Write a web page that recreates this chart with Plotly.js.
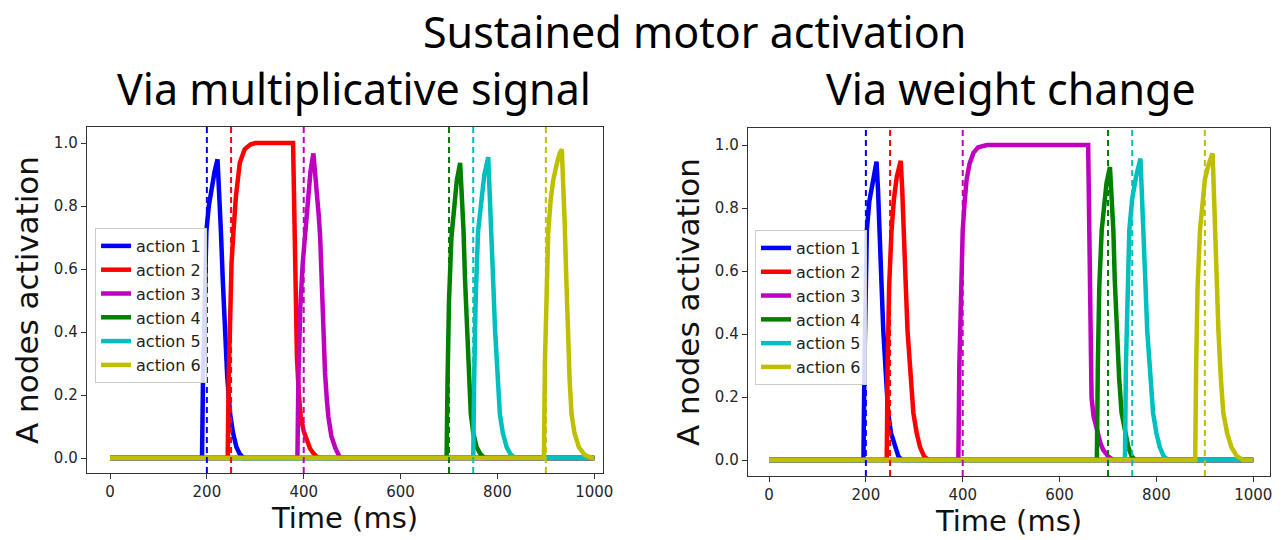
<!DOCTYPE html>
<html>
<head>
<meta charset="utf-8">
<script src="https://cdn.plot.ly/plotly-3.0.1.min.js"></script>
<style>html,body{margin:0;padding:0;background:#fff;}#chart{width:1288px;height:540px;}</style>
</head>
<body>
<div id="chart"></div>
<script>
// ---- data ----
const actionNames = ["action 1", "action 2", "action 3", "action 4", "action 5", "action 6"];
const actionColors = ["#0000ff", "#ff0000", "#bf00bf", "#008000", "#00bfbf", "#bfbf00"];
const cueTimes = [200, 250, 400, 700, 750, 900];
const xTicks = [0, 200, 400, 600, 800, 1000];
const yTicks = [0, 0.2, 0.4, 0.6, 0.8, 1.0];

// Panel 1: via multiplicative signal
const multT1 = [0,190,192,195,199,204,210,216,222,226,229,233,237,242,248,254,261,268,276,1000];
const multV1 = [0,0,0.25,0.55,0.72,0.8,0.86,0.91,0.948,0.85,0.72,0.56,0.41,0.26,0.14,0.08,0.035,0.012,0,0];
const multT2 = [0,243,245,248,251,255,260,268,278,290,300,378,380,383,386,390,394,400,406,413,420,430,1000];
const multV2 = [0,0,0.25,0.5,0.62,0.72,0.83,0.937,0.98,0.995,1.0,1.0,0.8,0.55,0.32,0.2,0.13,0.085,0.055,0.03,0.015,0,0];
const multT3 = [0,387,389,393,398,403,408,414,420,426,431,434,437,440,444,448,451,457,465,475,1000];
const multV3 = [0,0,0.25,0.48,0.62,0.72,0.82,0.91,0.967,0.87,0.77,0.7,0.55,0.4,0.27,0.18,0.13,0.07,0.033,0,0];
const multT4 = [0,695,697,700,705,710,716,723,726,730,733,737,741,745,750,757,765,774,1000];
const multV4 = [0,0,0.25,0.5,0.7,0.8,0.88,0.937,0.85,0.72,0.57,0.41,0.26,0.14,0.08,0.035,0.012,0,0];
const multT5 = [0,750,752,755,760,766,773,781,784,788,791,795,800,805,811,819,827,836,1000];
const multV5 = [0,0,0.25,0.5,0.72,0.82,0.9,0.955,0.86,0.72,0.57,0.41,0.26,0.14,0.08,0.035,0.012,0,0];
const multT6 = [0,896,898,901,905,910,915,922,928,933,936,939,942,945,949,953,959,968,980,995,1000];
const multV6 = [0,0,0.3,0.55,0.72,0.82,0.88,0.93,0.965,0.98,0.88,0.74,0.58,0.4,0.25,0.14,0.08,0.035,0.01,0,0];

// Panel 2: via weight change
const wT1 = [0,195,197,199,202,207,213,222,225,229,232,236,241,246,252,260,267,274,1000];
const wV1 = [0,0,0.3,0.55,0.73,0.82,0.88,0.947,0.86,0.73,0.57,0.41,0.26,0.15,0.085,0.04,0.012,0,0];
const wT2 = [0,243,245,248,253,258,264,272,275,279,282,286,292,298,305,312,320,329,1000];
const wV2 = [0,0,0.3,0.55,0.73,0.83,0.9,0.95,0.86,0.73,0.57,0.41,0.26,0.15,0.085,0.04,0.012,0,0];
const wT3 = [0,391,393,396,400,404,408,414,422,432,450,659,661,663,666,670,677,684,690,700,711,1000];
const wV3 = [0,0,0.3,0.55,0.73,0.82,0.89,0.94,0.975,0.993,1.0,1.0,0.75,0.45,0.2,0.14,0.095,0.055,0.032,0.012,0,0];
const wT4 = [0,677,679,682,687,692,697,704,707,711,714,718,723,728,735,742,749,756,1000];
const wV4 = [0,0,0.3,0.55,0.73,0.82,0.88,0.93,0.85,0.73,0.57,0.41,0.26,0.15,0.085,0.04,0.012,0,0];
const wT5 = [0,735,737,740,744,750,758,767,770,774,777,781,787,793,800,807,815,824,1000];
const wV5 = [0,0,0.3,0.55,0.73,0.83,0.9,0.957,0.86,0.73,0.57,0.41,0.26,0.15,0.085,0.04,0.012,0,0];
const wT6 = [0,880,882,885,890,895,900,908,916,918,921,924,928,933,938,946,955,966,979,1000];
const wV6 = [0,0,0.3,0.55,0.73,0.83,0.89,0.94,0.974,0.88,0.73,0.57,0.41,0.26,0.15,0.085,0.04,0.012,0,0];

const multTimes = [multT1, multT2, multT3, multT4, multT5, multT6];
const multVals = [multV1, multV2, multV3, multV4, multV5, multV6];
const wTimes = [wT1, wT2, wT3, wT4, wT5, wT6];
const wVals = [wV1, wV2, wV3, wV4, wV5, wV6];

// ---- traces ----
const traces = [];
for (let i = 0; i < 6; i++) {
  traces.push({
    type: "scatter", mode: "lines", x: multTimes[i], y: multVals[i], name: actionNames[i],
    xaxis: "x", yaxis: "y", legend: "legend",
    line: {color: actionColors[i], width: 4.5}, hoverinfo: "skip"
  });
}
for (let i = 0; i < 6; i++) {
  traces.push({
    type: "scatter", mode: "lines", x: wTimes[i], y: wVals[i], name: actionNames[i],
    xaxis: "x2", yaxis: "y2", legend: "legend2",
    line: {color: actionColors[i], width: 4.5}, hoverinfo: "skip"
  });
}

const shapes = [];
["x", "x2"].forEach((xr, k) => {
  for (let i = 0; i < 6; i++) {
    shapes.push({
      type: "line", xref: xr, yref: (k === 0 ? "y" : "y2") + " domain",
      x0: cueTimes[i], x1: cueTimes[i], y0: 0, y1: 1,
      line: {color: actionColors[i], width: 2, dash: "6px,4px"}, layer: "above"
    });
  }
});

const tickFont = {family: "DejaVu Sans", size: 15, color: "#262626"};
function xAxis(domain, range, anchor) {
  return {
    domain: domain, range: range, anchor: anchor,
    tickvals: xTicks, ticktext: xTicks.map(String),
    ticks: "outside", ticklen: 5, tickcolor: "#333", tickwidth: 1,
    showline: true, linecolor: "#333", linewidth: 1.3, mirror: true,
    showgrid: false, zeroline: false, tickfont: tickFont,
    title: {text: "Time (ms)", font: {family: "DejaVu Sans", size: 29, color: "#111"}, standoff: 4}
  };
}
function yAxis(domain, range, anchor) {
  return {
    domain: domain, range: range, anchor: anchor,
    tickvals: yTicks, ticktext: yTicks.map(v => v.toFixed(1)),
    ticks: "outside", ticklen: 5, tickcolor: "#333", tickwidth: 1,
    showline: true, linecolor: "#333", linewidth: 1.3, mirror: true,
    showgrid: false, zeroline: false, tickfont: tickFont,
    title: {text: "A nodes activation", font: {family: "DejaVu Sans", size: 31, color: "#111"}, standoff: 6}
  };
}

const legendStyle = {
  font: {family: "DejaVu Sans", size: 16, color: "#222"},
  bgcolor: "rgba(255,255,255,0.85)", bordercolor: "#cccccc", borderwidth: 1,
  xanchor: "left", yanchor: "top", tracegroupgap: 0
};

const layout = {
  width: 1288, height: 540,
  margin: {l: 0, r: 0, t: 0, b: 0},
  paper_bgcolor: "#ffffff", plot_bgcolor: "#ffffff",
  showlegend: true,
  xaxis: xAxis([0.06755, 0.46817], [-47.5, 1018], "y"),
  yaxis: yAxis([0.12407, 0.76481], [-0.0476, 1.0508], "x"),
  xaxis2: xAxis([0.58075, 0.98602], [-43.4, 1034.5], "y2"),
  yaxis2: yAxis([0.11852, 0.76296], [-0.0508, 1.054], "x2"),
  legend: Object.assign({x: 0.0738, y: 0.5778}, legendStyle),
  legend2: Object.assign({x: 0.5862, y: 0.574}, legendStyle),
  shapes: shapes,
  annotations: [
    {text: "Sustained motor activation", xref: "paper", yref: "paper", x: 694/1288, y: 1,
     xanchor: "center", yanchor: "top", showarrow: false, font: {family: "Noto Sans", size: 43, color: "#000"}},
    {text: "Via multiplicative signal", xref: "paper", yref: "paper", x: 354/1288, y: 1 - 88/540,
     xanchor: "center", yanchor: "middle", showarrow: false, font: {family: "Noto Sans", size: 43, color: "#000"}},
    {text: "Via weight change", xref: "paper", yref: "paper", x: 1011/1288, y: 1 - 88/540,
     xanchor: "center", yanchor: "middle", showarrow: false, font: {family: "Noto Sans", size: 43, color: "#000"}}
  ]
};

Plotly.newPlot("chart", traces, layout, {staticPlot: true, displayModeBar: false});
</script>
</body>
</html>
